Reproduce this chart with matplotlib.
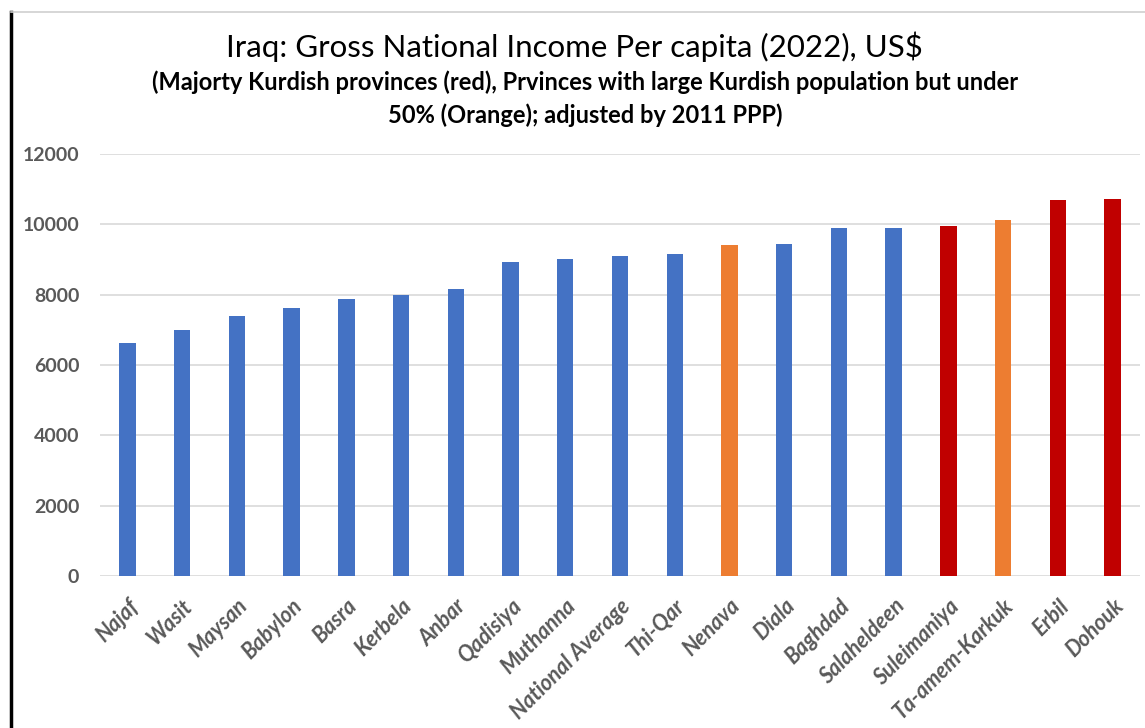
import matplotlib
matplotlib.use("Agg")
import matplotlib.pyplot as plt
from matplotlib.lines import Line2D

provinces = ["Najaf", "Wasit", "Maysan", "Babylon", "Basra", "Kerbela", "Anbar",
             "Qadisiya", "Muthanna", "National Average", "Thi-Qar", "Nenava", "Diala",
             "Baghdad", "Salaheldeen", "Suleimaniya", "Ta-amem-Karkuk", "Erbil", "Dohouk"]
gni = [6630, 7000, 7380, 7610, 7890, 8000, 8160, 8920, 9010, 9100, 9170, 9400,
       9440, 9900, 9890, 9950, 10110, 10680, 10730]
group = ["other"] * 11 + ["large"] + ["other"] * 3 + ["majority", "large", "majority", "majority"]
palette = {"other": "#4472C4", "large": "#ED7D31", "majority": "#C00000"}

plt.rcParams['font.family'] = ['Lato', 'DejaVu Sans']

fig = plt.figure(figsize=(11.45, 7.28), dpi=100)
ax = fig.add_axes([100/1145, 1-576/728, 1040/1145, (576-154)/728])

xs = range(len(provinces))
ax.bar(xs, gni, width=0.3, color=[palette[g] for g in group], zorder=3)
ax.set_xlim(-0.5, len(provinces) - 0.5)
ax.set_ylim(0, 12000)
ax.set_yticks(range(0, 12001, 2000))
ax.yaxis.grid(True, color="#D9D9D9", linewidth=1.2, zorder=0)
for s in ax.spines.values():
    s.set_visible(False)
ax.tick_params(axis='both', length=0, colors="#595959")
ax.tick_params(axis='y', pad=15)
ax.set_xticks(list(xs))
ax.set_xticklabels(provinces, rotation=45, ha='right', rotation_mode='anchor',
                   fontsize=15.5, fontweight='bold', fontstyle='italic', color="#595959")
for lab in ax.get_yticklabels():
    lab.set_fontsize(14)
    lab.set_fontweight('bold')
    lab.set_color("#595959")
ax.tick_params(axis='x', pad=14)

fig.text(0.5015, 1-47/728, "Iraq: Gross National Income Per capita (2022), US$",
         ha='center', va='center', fontsize=22.5, color="#000000")
fig.text(0.511, 1-82/728, "(Majorty Kurdish provinces (red), Prvinces with large Kurdish population but under",
         ha='center', va='center', fontsize=17, fontweight='bold', color="#000000")
fig.text(0.511, 1-115/728, "50% (Orange); adjusted by 2011 PPP)",
         ha='center', va='center', fontsize=17, fontweight='bold', color="#000000")

fig.add_artist(Line2D([11/1145, 11/1145], [0, 1-12/728], color="black", linewidth=2.5,
                      transform=fig.transFigure))
fig.add_artist(Line2D([11/1145, 1], [1-12/728, 1-12/728], color="#D0D0D0", linewidth=1.2,
                      transform=fig.transFigure))

fig.savefig("out.png", dpi=100)
